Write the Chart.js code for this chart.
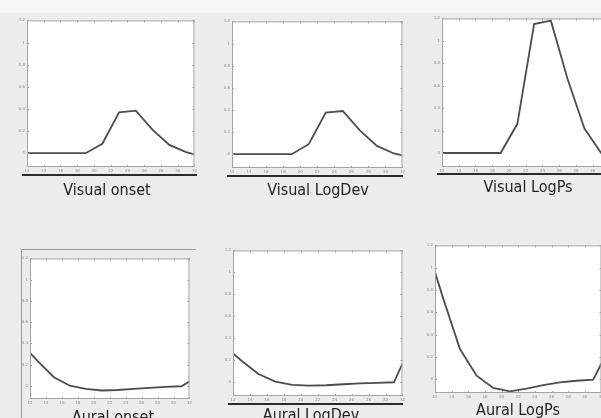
<!DOCTYPE html>
<html lang="en">
<head>
    <meta charset="UTF-8">
    <title>Visual and aural curves</title>
    <script src="https://cdn.jsdelivr.net/npm/chart.js"></script>
    <style>
        body {
            margin: 0;
            width: 601px;
            height: 418px;
            overflow: hidden;
            position: relative;
            background: #ececec;
            font-family: "DejaVu Sans Condensed", "DejaVu Sans", sans-serif;
            font-stretch: condensed;
        }
        .top-band { position: absolute; left: 0; top: 0; width: 601px; height: 13px; background: #f7f7f7; }
        .panel { position: absolute; }
        .title {
            position: absolute;
            transform: translate(-50%, -50%);
            font-size: 16px;
            line-height: 1;
            color: #222;
            white-space: nowrap;
        }
        .rule { position: absolute; height: 2px; background: #2a2a2a; }
        .frame { position: absolute; border-top: 1px solid #9a9a9a; border-left: 1px solid #9a9a9a; }
    </style>
</head>
<body>
    <div class="top-band"></div>
    <div class="frame" style="left:21px; top:249px; width:174px; height:170px;"></div>

    <script>
        // x positions of the samples and axis ticks
        const xValues = [12, 13, 15, 17, 19, 21, 23, 25, 27, 29, 31, 32];
        const xTicks = [12, 14, 16, 18, 20, 22, 24, 26, 28, 30, 32];
        const yTicks = [0, 0.2, 0.4, 0.6, 0.8, 1, 1.2];

        // series
        const visualOnset  = [0, 0, 0, 0, 0, 0.085, 0.37, 0.385, 0.21, 0.075, 0.01, -0.01];
        const visualLogDev = [0, 0, 0, 0, 0, 0.09, 0.375, 0.39, 0.215, 0.075, 0.006, -0.01];
        const visualLogPs  = [0, 0, 0, 0, 0, 0.26, 1.15, 1.18, 0.66, 0.22, 0.0, -0.02];
        const auralOnset   = [0.31, 0.23, 0.08, 0.0, -0.03, -0.045, -0.04, -0.03, -0.02, -0.01, -0.005, 0.04];
        const auralLogDev  = [0.263, 0.196, 0.075, 0.006, -0.024, -0.03, -0.027, -0.018, -0.01, -0.006, 0.0, 0.17];
        const auralLogPs   = [0.96, 0.72, 0.27, 0.03, -0.08, -0.11, -0.085, -0.055, -0.03, -0.015, -0.005, 0.14];

        const titles = ['Visual onset', 'Visual LogDev', 'Visual LogPs', 'Aural onset', 'Aural LogDev', 'Aural LogPs'];
        const series = [visualOnset, visualLogDev, visualLogPs, auralOnset, auralLogDev, auralLogPs];

        // layout: axes box, title centre, underline
        const panels = [
            { box: [27, 20, 195, 167],  title: [107, 190],   rule: [22, 174, 175] },
            { box: [232, 21, 403, 168], title: [318, 190],   rule: [227, 175, 176] },
            { box: [442, 18, 610, 167], title: [528, 186.5], rule: [437, 173, 164] },
            { box: [30, 258, 190, 399], title: [113, 417] },
            { box: [233, 250, 403, 396], title: [311, 415],  rule: [228, 403, 175] },
            { box: [435, 245, 602, 393], title: [518, 410] }
        ];

        const boxPlugin = {
            id: 'box',
            beforeDraw(chart) {
                const { ctx, chartArea: a } = chart;
                ctx.save();
                ctx.fillStyle = '#ffffff';
                ctx.fillRect(a.left, a.top, a.right - a.left, a.bottom - a.top);
                ctx.restore();
            },
            afterDraw(chart) {
                const { ctx, chartArea: a } = chart;
                const xs = chart.scales.x, ys = chart.scales.y;
                ctx.save();
                ctx.strokeStyle = '#a3a3a3';
                ctx.lineWidth = 1;
                ctx.strokeRect(a.left + 0.5, a.top + 0.5, a.right - a.left - 1, a.bottom - a.top - 1);
                ctx.beginPath();
                xs.ticks.forEach(t => {
                    const px = Math.round(xs.getPixelForValue(t.value)) + 0.5;
                    ctx.moveTo(px, a.top); ctx.lineTo(px, a.top + 2);
                    ctx.moveTo(px, a.bottom); ctx.lineTo(px, a.bottom - 2);
                });
                ys.ticks.forEach(t => {
                    const py = Math.round(ys.getPixelForValue(t.value)) + 0.5;
                    ctx.moveTo(a.left, py); ctx.lineTo(a.left + 2, py);
                    ctx.moveTo(a.right, py); ctx.lineTo(a.right - 2, py);
                });
                ctx.stroke();
                ctx.restore();
            }
        };

        const tickFont = { family: 'DejaVu Sans', size: 4 };

        panels.forEach((p, i) => {
            const [L, T, R, B] = p.box;
            const padL = 12, padT = 4, padR = 4, padB = 10;

            const wrap = document.createElement('div');
            wrap.className = 'panel';
            wrap.style.left = (L - padL) + 'px';
            wrap.style.top = (T - padT) + 'px';
            const canvas = document.createElement('canvas');
            canvas.width = R - L + padL + padR;
            canvas.height = B - T + padT + padB;
            wrap.appendChild(canvas);
            document.body.appendChild(wrap);

            new Chart(canvas, {
                type: 'line',
                data: {
                    datasets: [{
                        data: xValues.map((x, k) => ({ x: x, y: series[i][k] })),
                        borderColor: '#4d4d4d',
                        borderWidth: 1.8,
                        pointRadius: 0,
                        tension: 0,
                        fill: false
                    }]
                },
                options: {
                    responsive: false,
                    animation: false,
                    devicePixelRatio: 1,
                    layout: { padding: { left: 0, top: padT, right: padR, bottom: 0 } },
                    plugins: { legend: { display: false }, tooltip: { enabled: false } },
                    scales: {
                        x: {
                            type: 'linear',
                            min: 12,
                            max: 32,
                            grid: { display: false, drawTicks: false },
                            border: { display: false },
                            afterBuildTicks: s => { s.ticks = xTicks.map(v => ({ value: v })); },
                            afterFit: s => { s.height = padB; },
                            ticks: { font: tickFont, color: '#8a8a8a', padding: 2, maxRotation: 0, autoSkip: false,
                                     callback: v => String(v) }
                        },
                        y: {
                            min: -0.125,
                            max: 1.2,
                            grid: { display: false, drawTicks: false },
                            border: { display: false },
                            afterBuildTicks: s => { s.ticks = yTicks.map(v => ({ value: v })); },
                            afterFit: s => { s.width = padL; },
                            ticks: { font: tickFont, color: '#8a8a8a', padding: 2, callback: v => String(v) }
                        }
                    }
                },
                plugins: [boxPlugin]
            });

            if (p.rule) {
                const r = document.createElement('div');
                r.className = 'rule';
                r.style.left = p.rule[0] + 'px';
                r.style.top = p.rule[1] + 'px';
                r.style.width = p.rule[2] + 'px';
                document.body.appendChild(r);
            }

            const t = document.createElement('div');
            t.className = 'title';
            t.style.left = p.title[0] + 'px';
            t.style.top = p.title[1] + 'px';
            t.textContent = titles[i];
            document.body.appendChild(t);
        });
    </script>
</body>
</html>
